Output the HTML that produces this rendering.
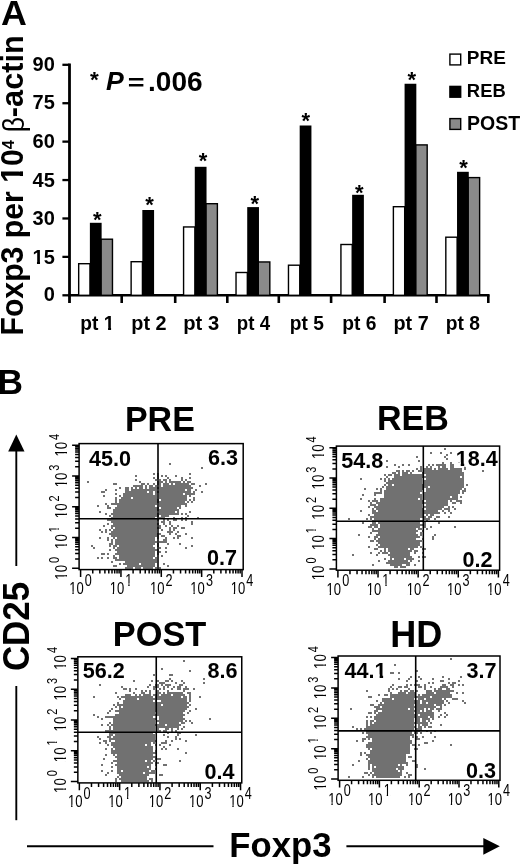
<!DOCTYPE html>
<html><head><meta charset="utf-8"><style>
html,body{margin:0;padding:0;background:#fff;overflow:hidden;}
svg{display:block;filter:blur(0.35px);}
text{font-family:"Liberation Sans", sans-serif;fill:#000;}
</style></head><body>
<svg width="520" height="866" viewBox="0 0 520 866">
<rect width="520" height="866" fill="#fff"></rect>
<line x1="69.5" y1="63.5" x2="69.5" y2="303" stroke="#000" stroke-width="2.8"></line>
<line x1="68.1" y1="295.3" x2="489.6" y2="295.3" stroke="#000" stroke-width="2.6"></line>
<line x1="62.4" y1="295.30" x2="69.5" y2="295.30" stroke="#000" stroke-width="2.3"></line>
<g transform="matrix(1.0000,0,0,1.0000,0.30,-0.20)"><text x="54.5" y="301.70" font-size="20" font-weight="bold" text-anchor="end">0</text></g>
<line x1="62.4" y1="256.88" x2="69.5" y2="256.88" stroke="#000" stroke-width="2.3"></line>
<g transform="matrix(1.0000,0,0,1.0000,0.30,0.38)"><text x="54.5" y="263.28" font-size="20" font-weight="bold" text-anchor="end">15</text><rect x="32.59" y="259.97" width="4.08" height="4.21" fill="#fff"></rect><rect x="39.72" y="259.97" width="3.83" height="4.21" fill="#fff"></rect></g>
<line x1="62.4" y1="218.47" x2="69.5" y2="218.47" stroke="#000" stroke-width="2.3"></line>
<g transform="matrix(1.0000,0,0,1.0000,0.30,-0.03)"><text x="54.5" y="224.87" font-size="20" font-weight="bold" text-anchor="end">30</text></g>
<line x1="62.4" y1="180.05" x2="69.5" y2="180.05" stroke="#000" stroke-width="2.3"></line>
<g transform="matrix(1.0000,0,0,1.0000,0.30,0.55)"><text x="54.5" y="186.45" font-size="20" font-weight="bold" text-anchor="end">45</text></g>
<line x1="62.4" y1="141.63" x2="69.5" y2="141.63" stroke="#000" stroke-width="2.3"></line>
<g transform="matrix(1.0000,0,0,1.0000,0.30,0.13)"><text x="54.5" y="148.03" font-size="20" font-weight="bold" text-anchor="end">60</text></g>
<line x1="62.4" y1="103.22" x2="69.5" y2="103.22" stroke="#000" stroke-width="2.3"></line>
<g transform="matrix(1.0000,0,0,1.0000,0.30,-0.28)"><text x="54.5" y="109.62" font-size="20" font-weight="bold" text-anchor="end">75</text></g>
<line x1="62.4" y1="64.80" x2="69.5" y2="64.80" stroke="#000" stroke-width="2.3"></line>
<g transform="matrix(1.0000,0,0,1.0000,0.30,0.30)"><text x="54.5" y="71.20" font-size="20" font-weight="bold" text-anchor="end">90</text></g>
<line x1="121.70" y1="295.3" x2="121.70" y2="303" stroke="#000" stroke-width="2.6"></line>
<line x1="175.20" y1="295.3" x2="175.20" y2="303" stroke="#000" stroke-width="2.6"></line>
<line x1="227.30" y1="295.3" x2="227.30" y2="303" stroke="#000" stroke-width="2.6"></line>
<line x1="278.80" y1="295.3" x2="278.80" y2="303" stroke="#000" stroke-width="2.6"></line>
<line x1="331.10" y1="295.3" x2="331.10" y2="303" stroke="#000" stroke-width="2.6"></line>
<line x1="384.60" y1="295.3" x2="384.60" y2="303" stroke="#000" stroke-width="2.6"></line>
<line x1="436.50" y1="295.3" x2="436.50" y2="303" stroke="#000" stroke-width="2.6"></line>
<line x1="488.30" y1="295.3" x2="488.30" y2="303" stroke="#000" stroke-width="2.6"></line>
<rect x="78.68" y="263.70" width="11.30" height="31.60" fill="#fff" stroke="#000" stroke-width="1.4"></rect>
<rect x="100.92" y="239.20" width="11.55" height="56.10" fill="#8a8a8a" stroke="#000" stroke-width="1.4"></rect>
<rect x="89.88" y="222.80" width="11.75" height="72.50" fill="#000"></rect>
<g transform="matrix(1.0000,0,0,1.0000,-0.30,-2.00)"><text x="97.70" y="228.90" font-size="22" font-weight="bold" text-anchor="middle">*</text></g>
<g transform="matrix(0.9581,0,0,0.9833,5.81,5.18)"><text x="95.53" y="330.8" font-size="20" font-weight="bold" text-anchor="middle">pt 1</text><rect x="102.55" y="327.43" width="4.18" height="4.27" fill="#fff"></rect><rect x="109.87" y="327.43" width="3.92" height="4.27" fill="#fff"></rect></g>
<rect x="131.13" y="261.70" width="11.30" height="33.60" fill="#fff" stroke="#000" stroke-width="1.4"></rect>
<rect x="142.33" y="210.00" width="11.75" height="85.30" fill="#000"></rect>
<g transform="matrix(1.0000,0,0,1.0000,0.05,-2.50)"><text x="149.55" y="214.70" font-size="22" font-weight="bold" text-anchor="middle">*</text></g>
<g transform="matrix(0.9909,0,0,0.9833,2.30,5.18)"><text x="147.98" y="330.8" font-size="20" font-weight="bold" text-anchor="middle">pt 2</text></g>
<rect x="183.58" y="226.95" width="11.30" height="68.35" fill="#fff" stroke="#000" stroke-width="1.4"></rect>
<rect x="205.83" y="203.70" width="11.55" height="91.60" fill="#8a8a8a" stroke="#000" stroke-width="1.4"></rect>
<rect x="194.78" y="166.80" width="11.75" height="128.50" fill="#000"></rect>
<g transform="matrix(1.0000,0,0,1.0000,0.00,-2.30)"><text x="203.00" y="170.80" font-size="22" font-weight="bold" text-anchor="middle">*</text></g>
<g transform="matrix(1.0091,0,0,0.9833,-1.07,5.18)"><text x="200.43" y="330.8" font-size="20" font-weight="bold" text-anchor="middle">pt 3</text></g>
<rect x="236.03" y="272.50" width="11.30" height="22.80" fill="#fff" stroke="#000" stroke-width="1.4"></rect>
<rect x="258.28" y="261.95" width="11.55" height="33.35" fill="#8a8a8a" stroke="#000" stroke-width="1.4"></rect>
<rect x="247.22" y="207.10" width="11.75" height="88.20" fill="#000"></rect>
<g transform="matrix(1.0000,0,0,1.0000,0.10,-2.05)"><text x="254.60" y="212.90" font-size="22" font-weight="bold" text-anchor="middle">*</text></g>
<g transform="matrix(0.9343,0,0,0.9833,17.21,5.18)"><text x="252.88" y="330.8" font-size="20" font-weight="bold" text-anchor="middle">pt 4</text></g>
<rect x="288.47" y="265.20" width="11.30" height="30.10" fill="#fff" stroke="#000" stroke-width="1.4"></rect>
<rect x="299.68" y="125.50" width="11.75" height="169.80" fill="#000"></rect>
<g transform="matrix(1.0000,0,0,1.0000,-0.10,-1.90)"><text x="305.90" y="130.20" font-size="22" font-weight="bold" text-anchor="middle">*</text></g>
<g transform="matrix(0.9588,0,0,0.9833,14.10,5.18)"><text x="305.32" y="330.8" font-size="20" font-weight="bold" text-anchor="middle">pt 5</text></g>
<rect x="340.93" y="244.50" width="11.30" height="50.80" fill="#fff" stroke="#000" stroke-width="1.4"></rect>
<rect x="352.13" y="194.80" width="11.75" height="100.50" fill="#000"></rect>
<g transform="matrix(1.0000,0,0,1.0000,-0.30,-1.55)"><text x="359.70" y="201.40" font-size="22" font-weight="bold" text-anchor="middle">*</text></g>
<g transform="matrix(0.9618,0,0,0.9833,15.14,5.18)"><text x="357.78" y="330.8" font-size="20" font-weight="bold" text-anchor="middle">pt 6</text></g>
<rect x="393.38" y="206.70" width="11.30" height="88.60" fill="#fff" stroke="#000" stroke-width="1.4"></rect>
<rect x="415.63" y="144.90" width="11.55" height="150.40" fill="#8a8a8a" stroke="#000" stroke-width="1.4"></rect>
<rect x="404.58" y="83.75" width="11.75" height="211.55" fill="#000"></rect>
<g transform="matrix(1.0000,0,0,1.0000,0.10,-1.67)"><text x="411.60" y="88.40" font-size="22" font-weight="bold" text-anchor="middle">*</text></g>
<g transform="matrix(0.9909,0,0,0.9833,4.58,5.18)"><text x="410.23" y="330.8" font-size="20" font-weight="bold" text-anchor="middle">pt 7</text></g>
<rect x="445.82" y="237.20" width="11.30" height="58.10" fill="#fff" stroke="#000" stroke-width="1.4"></rect>
<rect x="468.08" y="177.60" width="11.55" height="117.70" fill="#8a8a8a" stroke="#000" stroke-width="1.4"></rect>
<rect x="457.03" y="171.80" width="11.75" height="123.50" fill="#000"></rect>
<g transform="matrix(1.0000,0,0,1.0000,0.25,-1.80)"><text x="463.25" y="177.20" font-size="22" font-weight="bold" text-anchor="middle">*</text></g>
<g transform="matrix(0.9618,0,0,0.9833,17.95,5.18)"><text x="462.68" y="330.8" font-size="20" font-weight="bold" text-anchor="middle">pt 8</text></g>
<g transform="matrix(0.9958,0,0,0.9958,0.01,0.50)"><text x="1.1" y="24.4" font-size="36" font-weight="bold">A</text></g>
<g transform="matrix(1.0000,0,0,1.0000,0.55,-1.15)"><text x="89.5" y="88.6" font-size="22.5" font-weight="bold">*</text></g>
<g transform="matrix(1.0250,0,0,1.0000,-0.53,0.20)"><text x="104" y="90" font-size="26" font-weight="bold" font-style="italic">P</text></g>
<g transform="matrix(1.1077,0,0,0.8700,-13.39,11.38)"><text x="127.5" y="90" font-size="26" font-weight="bold">=</text></g>
<g transform="matrix(1.0592,0,0,1.0417,-7.16,-2.25)"><text x="146.5" y="90" font-size="26.5" font-weight="bold">.006</text></g>
<rect x="449.9" y="54.1" width="10.8" height="10.8" fill="#fff" stroke="#000" stroke-width="1.4"></rect>
<g transform="matrix(0.9590,0,0,0.9714,19.96,1.26)"><text x="466" y="64.8" font-size="19.8" font-weight="bold">PRE</text></g>
<rect x="449.9" y="86.39999999999999" width="10.8" height="10.8" fill="#000" stroke="#000" stroke-width="1.4"></rect>
<g transform="matrix(0.9300,0,0,0.9714,33.49,2.47)"><text x="466" y="97.1" font-size="19.8" font-weight="bold">REB</text></g>
<rect x="449.9" y="118.6" width="10.8" height="10.8" fill="#8a8a8a" stroke="#000" stroke-width="1.4"></rect>
<g transform="matrix(0.9857,0,0,0.9857,7.67,2.14)"><text x="466" y="129.3" font-size="19.8" font-weight="bold">POST</text></g>
<g transform="matrix(1.0000,0,0,0.9749,0.00,10.14)"><text transform="translate(23.3,333.8) rotate(-90)" font-size="31" font-weight="bold">Foxp3 per 10<tspan font-size="17" dy="-8.9">4</tspan></text><rect x="157.76" y="-4.44" width="5.88" height="5.34" fill="#fff" transform="translate(23.3,333.8) rotate(-90)"></rect><rect x="168.41" y="-4.44" width="5.49" height="5.34" fill="#fff" transform="translate(23.3,333.8) rotate(-90)"></rect></g>
<g transform="matrix(0.9600,0,0,0.8643,1.20,19.11)"><text transform="translate(23.3,131) rotate(-90)" font-size="31">β</text></g>
<g transform="matrix(1.0000,0,0,0.9913,0.00,1.21)"><text transform="translate(23.3,117) rotate(-90)" font-size="31" font-weight="bold">-actin</text></g>
<g transform="matrix(1.0000,0,0,1.0125,0.10,-5.02)"><text x="-2.7" y="393.9" font-size="35.3" font-weight="bold">B</text></g>
<line x1="16.3" y1="450" x2="16.3" y2="566" stroke="#000" stroke-width="1.9"></line>
<polygon points="16.3,434.4 8.2,451.4 24.5,451.4" fill="#000"></polygon>
<line x1="16.3" y1="686" x2="16.3" y2="820.2" stroke="#000" stroke-width="1.9"></line>
<g transform="matrix(1.0000,0,0,0.9312,0.60,47.57)"><text transform="translate(28.4,669.6) rotate(-90)" font-size="37.5" font-weight="bold">CD25</text></g>
<line x1="27" y1="846.2" x2="213.5" y2="846.2" stroke="#000" stroke-width="1.9"></line>
<line x1="346.4" y1="846.2" x2="485" y2="846.2" stroke="#000" stroke-width="1.9"></line>
<polygon points="499.8,846.3 483.3,838 483.3,854.7" fill="#000"></polygon>
<g transform="matrix(0.9919,0,0,0.9919,1.67,6.24)"><text x="229.5" y="857.7" font-size="35" font-weight="bold">Foxp3</text></g>
<path d="M169 463h2v2h-2zM201 467h2v2h-2zM153 473h2v2h-2zM157 473h2v2h-2zM189 473h2v2h-2zM135 475h2v2h-2zM157 475h2v2h-2zM161 475h2v2h-2zM165 475h2v2h-2zM175 475h2v2h-2zM153 477h2v2h-2zM157 477h2v2h-2zM167 477h2v2h-2zM181 477h2v2h-2zM189 477h2v2h-2zM135 479h2v2h-2zM155 479h2v2h-2zM159 479h2v2h-2zM163 479h4v2h-4zM169 479h2v2h-2zM181 479h2v2h-2zM185 479h2v2h-2zM87 481h2v2h-2zM139 481h2v2h-2zM157 481h6v2h-6zM165 481h2v2h-2zM169 481h12v2h-12zM183 481h2v2h-2zM187 481h4v2h-4zM113 483h4v2h-4zM141 483h4v2h-4zM147 483h2v2h-2zM153 483h2v2h-2zM157 483h4v2h-4zM163 483h6v2h-6zM171 483h2v2h-2zM175 483h14v2h-14zM191 483h4v2h-4zM205 483h2v2h-2zM133 485h10v2h-10zM145 485h2v2h-2zM149 485h4v2h-4zM155 485h2v2h-2zM159 485h2v2h-2zM163 485h28v2h-28zM199 485h2v2h-2zM119 487h2v2h-2zM125 487h4v2h-4zM131 487h2v2h-2zM135 487h2v2h-2zM139 487h4v2h-4zM145 487h2v2h-2zM149 487h44v2h-44zM105 489h2v2h-2zM115 489h2v2h-2zM125 489h4v2h-4zM131 489h26v2h-26zM159 489h26v2h-26zM187 489h4v2h-4zM195 489h2v2h-2zM101 491h4v2h-4zM125 491h22v2h-22zM149 491h4v2h-4zM155 491h36v2h-36zM193 491h2v2h-2zM201 491h2v2h-2zM115 493h2v2h-2zM123 493h30v2h-30zM155 493h2v2h-2zM159 493h24v2h-24zM185 493h10v2h-10zM103 495h2v2h-2zM119 495h2v2h-2zM123 495h34v2h-34zM159 495h28v2h-28zM189 495h2v2h-2zM115 497h2v2h-2zM121 497h10v2h-10zM133 497h24v2h-24zM159 497h28v2h-28zM193 497h2v2h-2zM115 499h2v2h-2zM119 499h40v2h-40zM161 499h26v2h-26zM189 499h2v2h-2zM193 499h2v2h-2zM115 501h2v2h-2zM119 501h66v2h-66zM187 501h2v2h-2zM191 501h2v2h-2zM105 503h2v2h-2zM111 503h46v2h-46zM159 503h28v2h-28zM97 505h2v2h-2zM107 505h2v2h-2zM117 505h38v2h-38zM159 505h22v2h-22zM185 505h2v2h-2zM107 507h4v2h-4zM115 507h44v2h-44zM161 507h16v2h-16zM179 507h2v2h-2zM113 509h66v2h-66zM99 511h2v2h-2zM113 511h44v2h-44zM159 511h16v2h-16zM177 511h2v2h-2zM189 511h2v2h-2zM105 513h2v2h-2zM111 513h68v2h-68zM181 513h2v2h-2zM185 513h2v2h-2zM109 515h2v2h-2zM113 515h46v2h-46zM161 515h8v2h-8zM187 515h2v2h-2zM111 517h44v2h-44zM159 517h6v2h-6zM173 517h2v2h-2zM181 517h2v2h-2zM185 517h2v2h-2zM197 517h2v2h-2zM107 519h52v2h-52zM163 519h2v2h-2zM167 519h2v2h-2zM173 519h4v2h-4zM181 519h2v2h-2zM185 519h2v2h-2zM111 521h46v2h-46zM161 521h4v2h-4zM169 521h2v2h-2zM191 521h2v2h-2zM107 523h2v2h-2zM113 523h46v2h-46zM163 523h2v2h-2zM169 523h2v2h-2zM191 523h2v2h-2zM103 525h2v2h-2zM111 525h46v2h-46zM159 525h2v2h-2zM165 525h2v2h-2zM171 525h2v2h-2zM177 525h2v2h-2zM111 527h2v2h-2zM115 527h46v2h-46zM169 527h2v2h-2zM173 527h4v2h-4zM181 527h4v2h-4zM99 529h2v2h-2zM105 529h2v2h-2zM109 529h2v2h-2zM113 529h44v2h-44zM161 529h2v2h-2zM169 529h2v2h-2zM173 529h2v2h-2zM101 531h2v2h-2zM105 531h2v2h-2zM111 531h46v2h-46zM167 531h6v2h-6zM177 531h2v2h-2zM109 533h52v2h-52zM169 533h2v2h-2zM175 533h2v2h-2zM185 533h2v2h-2zM111 535h48v2h-48zM161 535h4v2h-4zM177 535h4v2h-4zM99 537h2v2h-2zM107 537h2v2h-2zM113 537h2v2h-2zM117 537h38v2h-38zM157 537h2v2h-2zM165 537h2v2h-2zM173 537h2v2h-2zM177 537h2v2h-2zM191 537h2v2h-2zM107 539h2v2h-2zM111 539h2v2h-2zM115 539h40v2h-40zM163 539h4v2h-4zM111 541h2v2h-2zM115 541h42v2h-42zM159 541h8v2h-8zM109 543h4v2h-4zM115 543h40v2h-40zM157 543h2v2h-2zM167 543h2v2h-2zM179 543h2v2h-2zM91 545h2v2h-2zM109 545h2v2h-2zM113 545h4v2h-4zM119 545h34v2h-34zM157 545h2v2h-2zM191 545h2v2h-2zM93 547h2v2h-2zM113 547h2v2h-2zM117 547h38v2h-38zM159 547h2v2h-2zM165 547h2v2h-2zM185 547h2v2h-2zM109 549h2v2h-2zM115 549h44v2h-44zM117 551h38v2h-38zM157 551h4v2h-4zM165 551h2v2h-2zM101 553h4v2h-4zM107 553h2v2h-2zM115 553h40v2h-40zM157 553h2v2h-2zM113 555h2v2h-2zM119 555h36v2h-36zM161 555h2v2h-2zM97 557h2v2h-2zM101 557h2v2h-2zM107 557h2v2h-2zM113 557h4v2h-4zM119 557h34v2h-34zM155 557h2v2h-2zM115 559h42v2h-42zM111 561h2v2h-2zM125 561h32v2h-32zM119 563h2v2h-2zM123 563h16v2h-16zM141 563h14v2h-14zM163 563h2v2h-2zM113 565h4v2h-4zM127 565h28v2h-28zM167 565h2v2h-2zM125 567h8v2h-8zM135 567h6v2h-6zM143 567h10v2h-10zM155 567h2v2h-2zM159 567h2v2h-2z" fill="#717171"></path>
<line x1="158" y1="443.6" x2="158" y2="569.6" stroke="#000" stroke-width="1.6"></line>
<line x1="79.1" y1="518.8" x2="243.2" y2="518.8" stroke="#000" stroke-width="1.6"></line>
<rect x="79.1" y="443.6" width="164.10" height="126.00" fill="none" stroke="#000" stroke-width="1.5"></rect>
<path d="M80.60 569.6v7.3M79.1 568.30h-7M92.75 569.6v4M79.1 559.04h-4M99.85 569.6v4M79.1 553.62h-4M104.89 569.6v4M79.1 549.77h-4M108.80 569.6v4M79.1 546.79h-4M112.00 569.6v4M79.1 544.35h-4M114.70 569.6v4M79.1 542.29h-4M117.04 569.6v4M79.1 540.51h-4M119.10 569.6v4M79.1 538.93h-4M120.95 569.6v7.3M79.1 537.53h-7M133.10 569.6v4M79.1 528.26h-4M140.20 569.6v4M79.1 522.84h-4M145.24 569.6v4M79.1 519.00h-4M149.15 569.6v4M79.1 516.01h-4M152.35 569.6v4M79.1 513.58h-4M155.05 569.6v4M79.1 511.52h-4M157.39 569.6v4M79.1 509.73h-4M159.45 569.6v4M79.1 508.16h-4M161.30 569.6v7.3M79.1 506.75h-7M173.45 569.6v4M79.1 497.49h-4M180.55 569.6v4M79.1 492.07h-4M185.59 569.6v4M79.1 488.22h-4M189.50 569.6v4M79.1 485.24h-4M192.70 569.6v4M79.1 482.80h-4M195.40 569.6v4M79.1 480.74h-4M197.74 569.6v4M79.1 478.96h-4M199.80 569.6v4M79.1 477.38h-4M201.65 569.6v7.3M79.1 475.98h-7M213.80 569.6v4M79.1 466.71h-4M220.90 569.6v4M79.1 461.29h-4M225.94 569.6v4M79.1 457.45h-4M229.85 569.6v4M79.1 454.46h-4M233.05 569.6v4M79.1 452.03h-4M235.75 569.6v4M79.1 449.97h-4M238.09 569.6v4M79.1 448.18h-4M240.15 569.6v4M79.1 446.61h-4M242.00 569.6v7.3M79.1 445.20h-7" stroke="#000" stroke-width="1.5" fill="none"></path>
<g transform="translate(80.60,593.90) scale(0.8,1)"><text x="0" y="0" font-size="16.3" text-anchor="middle">10<tspan font-size="15.8" dx="1.3" dy="-8.3">0</tspan></text><rect x="-13.80" y="-2.48" width="3.53" height="3.38" fill="#fff"></rect><rect x="-8.60" y="-2.48" width="3.41" height="3.38" fill="#fff"></rect></g>
<g transform="translate(66.90,568.30) rotate(-90) scale(0.78,1)"><text x="0" y="0" font-size="17" text-anchor="middle">10<tspan font-size="14" dx="2.5" dy="-8.4">0</tspan></text><rect x="-14.20" y="-2.57" width="3.73" height="3.47" fill="#fff"></rect><rect x="-8.68" y="-2.57" width="3.59" height="3.47" fill="#fff"></rect></g>
<g transform="translate(120.95,593.90) scale(0.8,1)"><text x="0" y="0" font-size="16.3" text-anchor="middle">10<tspan font-size="15.8" dx="1.3" dy="-8.3">1</tspan></text><rect x="5.63" y="-10.78" width="3.53" height="3.38" fill="#fff"></rect><rect x="10.84" y="-10.78" width="3.41" height="3.38" fill="#fff"></rect><rect x="-13.80" y="-2.48" width="3.53" height="3.38" fill="#fff"></rect><rect x="-8.60" y="-2.48" width="3.41" height="3.38" fill="#fff"></rect></g>
<g transform="translate(66.90,537.53) rotate(-90) scale(0.78,1)"><text x="0" y="0" font-size="17" text-anchor="middle">10<tspan font-size="14" dx="2.5" dy="-8.4">1</tspan></text><rect x="6.97" y="-10.74" width="3.23" height="3.24" fill="#fff"></rect><rect x="11.68" y="-10.74" width="3.12" height="3.24" fill="#fff"></rect><rect x="-14.20" y="-2.57" width="3.73" height="3.47" fill="#fff"></rect><rect x="-8.68" y="-2.57" width="3.59" height="3.47" fill="#fff"></rect></g>
<g transform="translate(161.30,593.90) scale(0.8,1)"><text x="0" y="0" font-size="16.3" text-anchor="middle">10<tspan font-size="15.8" dx="1.3" dy="-8.3">2</tspan></text><rect x="-13.80" y="-2.48" width="3.53" height="3.38" fill="#fff"></rect><rect x="-8.60" y="-2.48" width="3.41" height="3.38" fill="#fff"></rect></g>
<g transform="translate(66.90,506.75) rotate(-90) scale(0.78,1)"><text x="0" y="0" font-size="17" text-anchor="middle">10<tspan font-size="14" dx="2.5" dy="-8.4">2</tspan></text><rect x="-14.20" y="-2.57" width="3.73" height="3.47" fill="#fff"></rect><rect x="-8.68" y="-2.57" width="3.59" height="3.47" fill="#fff"></rect></g>
<g transform="translate(201.65,593.90) scale(0.8,1)"><text x="0" y="0" font-size="16.3" text-anchor="middle">10<tspan font-size="15.8" dx="1.3" dy="-8.3">3</tspan></text><rect x="-13.80" y="-2.48" width="3.53" height="3.38" fill="#fff"></rect><rect x="-8.60" y="-2.48" width="3.41" height="3.38" fill="#fff"></rect></g>
<g transform="translate(66.90,475.98) rotate(-90) scale(0.78,1)"><text x="0" y="0" font-size="17" text-anchor="middle">10<tspan font-size="14" dx="2.5" dy="-8.4">3</tspan></text><rect x="-14.20" y="-2.57" width="3.73" height="3.47" fill="#fff"></rect><rect x="-8.68" y="-2.57" width="3.59" height="3.47" fill="#fff"></rect></g>
<g transform="translate(242.00,593.90) scale(0.8,1)"><text x="0" y="0" font-size="16.3" text-anchor="middle">10<tspan font-size="15.8" dx="1.3" dy="-8.3">4</tspan></text><rect x="-13.80" y="-2.48" width="3.53" height="3.38" fill="#fff"></rect><rect x="-8.60" y="-2.48" width="3.41" height="3.38" fill="#fff"></rect></g>
<g transform="translate(66.90,445.20) rotate(-90) scale(0.78,1)"><text x="0" y="0" font-size="17" text-anchor="middle">10<tspan font-size="14" dx="2.5" dy="-8.4">4</tspan></text><rect x="-14.20" y="-2.57" width="3.73" height="3.47" fill="#fff"></rect><rect x="-8.68" y="-2.57" width="3.59" height="3.47" fill="#fff"></rect></g>
<g transform="matrix(0.9721,0,0,1.0042,3.95,-1.80)"><text x="160.45" y="431" font-size="35" font-weight="bold" text-anchor="middle">PRE</text></g>
<g transform="matrix(1.0000,0,0,1.0000,89.00,466.30)"><text x="0" y="0" font-size="21.6" font-weight="bold">45.0</text></g>
<g transform="matrix(1.0000,0,0,1.0000,208.00,465.00)"><text x="0" y="0" font-size="21.6" font-weight="bold">6.3</text></g>
<g transform="matrix(1.0000,0,0,1.0000,207.00,564.60)"><text x="0" y="0" font-size="21.6" font-weight="bold">0.7</text></g>
<path d="M444 448h2v2h-2zM430 452h2v2h-2zM440 452h2v2h-2zM450 452h2v2h-2zM446 454h2v2h-2zM416 456h2v2h-2zM444 456h2v2h-2zM446 458h2v2h-2zM386 460h2v2h-2zM418 460h2v2h-2zM442 462h2v2h-2zM450 462h2v2h-2zM458 462h2v2h-2zM394 464h2v2h-2zM402 464h2v2h-2zM408 464h2v2h-2zM428 464h2v2h-2zM432 464h2v2h-2zM436 464h10v2h-10zM450 464h4v2h-4zM458 464h2v2h-2zM386 466h2v2h-2zM398 466h2v2h-2zM420 466h2v2h-2zM426 466h2v2h-2zM430 466h2v2h-2zM438 466h2v2h-2zM442 466h4v2h-4zM450 466h4v2h-4zM464 466h2v2h-2zM416 468h2v2h-2zM420 468h2v2h-2zM424 468h8v2h-8zM434 468h2v2h-2zM438 468h10v2h-10zM450 468h12v2h-12zM464 468h2v2h-2zM396 470h4v2h-4zM402 470h2v2h-2zM406 470h4v2h-4zM412 470h2v2h-2zM418 470h4v2h-4zM424 470h38v2h-38zM482 470h2v2h-2zM392 472h4v2h-4zM398 472h2v2h-2zM402 472h6v2h-6zM410 472h2v2h-2zM422 472h42v2h-42zM384 474h2v2h-2zM388 474h4v2h-4zM394 474h6v2h-6zM402 474h22v2h-22zM426 474h38v2h-38zM386 476h2v2h-2zM394 476h66v2h-66zM462 476h2v2h-2zM360 478h2v2h-2zM380 478h2v2h-2zM384 478h2v2h-2zM388 478h2v2h-2zM392 478h30v2h-30zM426 478h38v2h-38zM384 480h2v2h-2zM388 480h34v2h-34zM424 480h40v2h-40zM386 482h36v2h-36zM424 482h40v2h-40zM384 484h2v2h-2zM388 484h4v2h-4zM394 484h70v2h-70zM466 484h2v2h-2zM382 486h2v2h-2zM386 486h42v2h-42zM430 486h34v2h-34zM364 488h2v2h-2zM376 488h2v2h-2zM380 488h2v2h-2zM386 488h38v2h-38zM426 488h36v2h-36zM464 488h2v2h-2zM380 490h2v2h-2zM384 490h38v2h-38zM426 490h34v2h-34zM462 490h4v2h-4zM374 492h8v2h-8zM384 492h36v2h-36zM424 492h36v2h-36zM462 492h2v2h-2zM362 494h2v2h-2zM374 494h2v2h-2zM384 494h38v2h-38zM424 494h34v2h-34zM384 496h38v2h-38zM424 496h26v2h-26zM452 496h6v2h-6zM460 496h2v2h-2zM360 498h2v2h-2zM374 498h2v2h-2zM380 498h38v2h-38zM420 498h2v2h-2zM424 498h34v2h-34zM368 500h2v2h-2zM372 500h6v2h-6zM380 500h44v2h-44zM426 500h22v2h-22zM450 500h2v2h-2zM456 500h6v2h-6zM370 502h2v2h-2zM376 502h72v2h-72zM452 502h4v2h-4zM460 502h2v2h-2zM370 504h6v2h-6zM378 504h44v2h-44zM426 504h22v2h-22zM368 506h2v2h-2zM374 506h48v2h-48zM424 506h20v2h-20zM448 506h2v2h-2zM452 506h2v2h-2zM372 508h2v2h-2zM376 508h48v2h-48zM426 508h16v2h-16zM444 508h6v2h-6zM454 508h2v2h-2zM360 510h2v2h-2zM372 510h4v2h-4zM378 510h60v2h-60zM442 510h2v2h-2zM448 510h2v2h-2zM372 512h68v2h-68zM444 512h2v2h-2zM450 512h2v2h-2zM368 514h2v2h-2zM374 514h50v2h-50zM426 514h2v2h-2zM430 514h4v2h-4zM370 516h56v2h-56zM428 516h4v2h-4zM436 516h4v2h-4zM448 516h2v2h-2zM348 518h2v2h-2zM366 518h2v2h-2zM370 518h2v2h-2zM374 518h46v2h-46zM424 518h6v2h-6zM434 518h2v2h-2zM372 520h52v2h-52zM426 520h2v2h-2zM362 522h2v2h-2zM372 522h4v2h-4zM378 522h42v2h-42zM424 522h2v2h-2zM438 522h2v2h-2zM370 524h8v2h-8zM380 524h46v2h-46zM368 526h4v2h-4zM374 526h4v2h-4zM380 526h40v2h-40zM424 526h2v2h-2zM430 526h2v2h-2zM454 526h2v2h-2zM372 528h2v2h-2zM378 528h38v2h-38zM418 528h4v2h-4zM426 528h2v2h-2zM372 530h46v2h-46zM422 530h2v2h-2zM370 532h2v2h-2zM378 532h38v2h-38zM420 532h2v2h-2zM358 534h2v2h-2zM376 534h42v2h-42zM420 534h2v2h-2zM434 534h2v2h-2zM368 536h2v2h-2zM374 536h4v2h-4zM380 536h40v2h-40zM432 536h2v2h-2zM374 538h2v2h-2zM378 538h38v2h-38zM422 538h2v2h-2zM432 538h2v2h-2zM370 540h4v2h-4zM376 540h46v2h-46zM378 542h42v2h-42zM376 544h2v2h-2zM380 544h40v2h-40zM368 546h2v2h-2zM378 546h40v2h-40zM420 546h2v2h-2zM374 548h4v2h-4zM384 548h2v2h-2zM388 548h20v2h-20zM410 548h4v2h-4zM422 548h4v2h-4zM380 550h2v2h-2zM384 550h2v2h-2zM388 550h24v2h-24zM414 550h4v2h-4zM370 552h2v2h-2zM378 552h2v2h-2zM382 552h6v2h-6zM390 552h20v2h-20zM414 552h2v2h-2zM422 552h2v2h-2zM352 554h2v2h-2zM376 554h2v2h-2zM388 554h22v2h-22zM390 556h22v2h-22zM418 556h2v2h-2zM422 556h4v2h-4zM384 558h2v2h-2zM390 558h2v2h-2zM394 558h10v2h-10zM406 558h8v2h-8zM378 560h2v2h-2zM388 560h20v2h-20zM410 560h2v2h-2zM418 560h2v2h-2zM386 562h24v2h-24zM372 564h2v2h-2zM390 564h12v2h-12zM406 564h4v2h-4zM414 564h2v2h-2zM394 566h4v2h-4zM400 566h6v2h-6z" fill="#717171"></path>
<line x1="423.3" y1="446.1" x2="423.3" y2="570.2" stroke="#000" stroke-width="1.6"></line>
<line x1="336.4" y1="521.2" x2="499.6" y2="521.2" stroke="#000" stroke-width="1.6"></line>
<rect x="336.4" y="446.1" width="163.20" height="124.10" fill="none" stroke="#000" stroke-width="1.5"></rect>
<path d="M337.90 570.2v7.3M336.4 568.90h-7M349.98 570.2v4M336.4 559.78h-4M357.04 570.2v4M336.4 554.44h-4M362.06 570.2v4M336.4 550.66h-4M365.95 570.2v4M336.4 547.72h-4M369.12 570.2v4M336.4 545.32h-4M371.81 570.2v4M336.4 543.29h-4M374.14 570.2v4M336.4 541.54h-4M376.19 570.2v4M336.4 539.99h-4M378.02 570.2v7.3M336.4 538.60h-7M390.10 570.2v4M336.4 529.48h-4M397.17 570.2v4M336.4 524.14h-4M402.18 570.2v4M336.4 520.36h-4M406.07 570.2v4M336.4 517.42h-4M409.25 570.2v4M336.4 515.02h-4M411.93 570.2v4M336.4 512.99h-4M414.26 570.2v4M336.4 511.24h-4M416.31 570.2v4M336.4 509.69h-4M418.15 570.2v7.3M336.4 508.30h-7M430.23 570.2v4M336.4 499.18h-4M437.29 570.2v4M336.4 493.84h-4M442.31 570.2v4M336.4 490.06h-4M446.20 570.2v4M336.4 487.12h-4M449.37 570.2v4M336.4 484.72h-4M452.06 570.2v4M336.4 482.69h-4M454.39 570.2v4M336.4 480.94h-4M456.44 570.2v4M336.4 479.39h-4M458.28 570.2v7.3M336.4 478.00h-7M470.35 570.2v4M336.4 468.88h-4M477.42 570.2v4M336.4 463.54h-4M482.43 570.2v4M336.4 459.76h-4M486.32 570.2v4M336.4 456.82h-4M489.50 570.2v4M336.4 454.42h-4M492.18 570.2v4M336.4 452.39h-4M494.51 570.2v4M336.4 450.64h-4M496.56 570.2v4M336.4 449.09h-4M498.40 570.2v7.3M336.4 447.70h-7" stroke="#000" stroke-width="1.5" fill="none"></path>
<g transform="translate(337.90,594.50) scale(0.8,1)"><text x="0" y="0" font-size="16.3" text-anchor="middle">10<tspan font-size="15.8" dx="1.3" dy="-8.3">0</tspan></text><rect x="-13.80" y="-2.48" width="3.53" height="3.38" fill="#fff"></rect><rect x="-8.60" y="-2.48" width="3.41" height="3.38" fill="#fff"></rect></g>
<g transform="translate(324.20,568.90) rotate(-90) scale(0.78,1)"><text x="0" y="0" font-size="17" text-anchor="middle">10<tspan font-size="14" dx="2.5" dy="-8.4">0</tspan></text><rect x="-14.20" y="-2.57" width="3.73" height="3.47" fill="#fff"></rect><rect x="-8.68" y="-2.57" width="3.59" height="3.47" fill="#fff"></rect></g>
<g transform="translate(378.02,594.50) scale(0.8,1)"><text x="0" y="0" font-size="16.3" text-anchor="middle">10<tspan font-size="15.8" dx="1.3" dy="-8.3">1</tspan></text><rect x="5.63" y="-10.78" width="3.53" height="3.38" fill="#fff"></rect><rect x="10.84" y="-10.78" width="3.41" height="3.38" fill="#fff"></rect><rect x="-13.80" y="-2.48" width="3.53" height="3.38" fill="#fff"></rect><rect x="-8.60" y="-2.48" width="3.41" height="3.38" fill="#fff"></rect></g>
<g transform="translate(324.20,538.60) rotate(-90) scale(0.78,1)"><text x="0" y="0" font-size="17" text-anchor="middle">10<tspan font-size="14" dx="2.5" dy="-8.4">1</tspan></text><rect x="6.97" y="-10.74" width="3.23" height="3.24" fill="#fff"></rect><rect x="11.68" y="-10.74" width="3.12" height="3.24" fill="#fff"></rect><rect x="-14.20" y="-2.57" width="3.73" height="3.47" fill="#fff"></rect><rect x="-8.68" y="-2.57" width="3.59" height="3.47" fill="#fff"></rect></g>
<g transform="translate(418.15,594.50) scale(0.8,1)"><text x="0" y="0" font-size="16.3" text-anchor="middle">10<tspan font-size="15.8" dx="1.3" dy="-8.3">2</tspan></text><rect x="-13.80" y="-2.48" width="3.53" height="3.38" fill="#fff"></rect><rect x="-8.60" y="-2.48" width="3.41" height="3.38" fill="#fff"></rect></g>
<g transform="translate(324.20,508.30) rotate(-90) scale(0.78,1)"><text x="0" y="0" font-size="17" text-anchor="middle">10<tspan font-size="14" dx="2.5" dy="-8.4">2</tspan></text><rect x="-14.20" y="-2.57" width="3.73" height="3.47" fill="#fff"></rect><rect x="-8.68" y="-2.57" width="3.59" height="3.47" fill="#fff"></rect></g>
<g transform="translate(458.28,594.50) scale(0.8,1)"><text x="0" y="0" font-size="16.3" text-anchor="middle">10<tspan font-size="15.8" dx="1.3" dy="-8.3">3</tspan></text><rect x="-13.80" y="-2.48" width="3.53" height="3.38" fill="#fff"></rect><rect x="-8.60" y="-2.48" width="3.41" height="3.38" fill="#fff"></rect></g>
<g transform="translate(324.20,478.00) rotate(-90) scale(0.78,1)"><text x="0" y="0" font-size="17" text-anchor="middle">10<tspan font-size="14" dx="2.5" dy="-8.4">3</tspan></text><rect x="-14.20" y="-2.57" width="3.73" height="3.47" fill="#fff"></rect><rect x="-8.68" y="-2.57" width="3.59" height="3.47" fill="#fff"></rect></g>
<g transform="translate(498.40,594.50) scale(0.8,1)"><text x="0" y="0" font-size="16.3" text-anchor="middle">10<tspan font-size="15.8" dx="1.3" dy="-8.3">4</tspan></text><rect x="-13.80" y="-2.48" width="3.53" height="3.38" fill="#fff"></rect><rect x="-8.60" y="-2.48" width="3.41" height="3.38" fill="#fff"></rect></g>
<g transform="translate(324.20,447.70) rotate(-90) scale(0.78,1)"><text x="0" y="0" font-size="17" text-anchor="middle">10<tspan font-size="14" dx="2.5" dy="-8.4">4</tspan></text><rect x="-14.20" y="-2.57" width="3.73" height="3.47" fill="#fff"></rect><rect x="-8.68" y="-2.57" width="3.59" height="3.47" fill="#fff"></rect></g>
<g transform="matrix(0.9729,0,0,1.0000,10.69,-0.40)"><text x="413.45" y="430.6" font-size="35" font-weight="bold" text-anchor="middle">REB</text></g>
<g transform="matrix(1.0000,0,0,1.0000,341.30,467.70)"><text x="0" y="0" font-size="21.6" font-weight="bold">54.8</text></g>
<g transform="matrix(1.0000,0,0,1.0000,455.70,466.00)"><text x="0" y="0" font-size="21.6" font-weight="bold">18.4</text><rect x="0.51" y="-3.58" width="4.52" height="4.48" fill="#fff"></rect><rect x="8.49" y="-3.58" width="4.23" height="4.48" fill="#fff"></rect></g>
<g transform="matrix(1.0000,0,0,1.0000,462.50,567.00)"><text x="0" y="0" font-size="21.6" font-weight="bold">0.2</text></g>
<path d="M183 660h2v2h-2zM85 668h2v2h-2zM161 668h2v2h-2zM189 670h2v2h-2zM153 674h2v2h-2zM169 674h4v2h-4zM169 678h2v2h-2zM203 678h2v2h-2zM133 680h2v2h-2zM151 680h2v2h-2zM157 680h2v2h-2zM165 680h4v2h-4zM171 680h2v2h-2zM181 680h2v2h-2zM159 682h6v2h-6zM175 682h2v2h-2zM183 682h2v2h-2zM203 682h2v2h-2zM99 684h2v2h-2zM149 684h2v2h-2zM155 684h4v2h-4zM161 684h2v2h-2zM165 684h6v2h-6zM179 684h4v2h-4zM121 686h2v2h-2zM147 686h2v2h-2zM153 686h6v2h-6zM163 686h2v2h-2zM167 686h2v2h-2zM173 686h2v2h-2zM177 686h4v2h-4zM185 686h2v2h-2zM123 688h4v2h-4zM129 688h2v2h-2zM135 688h2v2h-2zM153 688h2v2h-2zM159 688h2v2h-2zM163 688h2v2h-2zM171 688h2v2h-2zM177 688h4v2h-4zM183 688h6v2h-6zM193 688h2v2h-2zM129 690h2v2h-2zM141 690h2v2h-2zM145 690h2v2h-2zM149 690h2v2h-2zM157 690h2v2h-2zM167 690h2v2h-2zM183 690h2v2h-2zM115 692h2v2h-2zM133 692h2v2h-2zM141 692h4v2h-4zM149 692h2v2h-2zM157 692h4v2h-4zM163 692h2v2h-2zM167 692h16v2h-16zM187 692h4v2h-4zM125 694h6v2h-6zM135 694h2v2h-2zM139 694h2v2h-2zM143 694h8v2h-8zM153 694h6v2h-6zM161 694h10v2h-10zM173 694h12v2h-12zM189 694h2v2h-2zM93 696h2v2h-2zM117 696h2v2h-2zM121 696h32v2h-32zM155 696h26v2h-26zM183 696h4v2h-4zM189 696h2v2h-2zM199 696h2v2h-2zM119 698h2v2h-2zM125 698h12v2h-12zM139 698h48v2h-48zM189 698h2v2h-2zM123 700h30v2h-30zM155 700h2v2h-2zM161 700h26v2h-26zM189 700h2v2h-2zM117 702h2v2h-2zM123 702h66v2h-66zM113 704h2v2h-2zM117 704h44v2h-44zM163 704h24v2h-24zM189 704h2v2h-2zM115 706h2v2h-2zM119 706h2v2h-2zM123 706h66v2h-66zM111 708h2v2h-2zM119 708h68v2h-68zM195 708h2v2h-2zM109 710h2v2h-2zM115 710h70v2h-70zM189 710h2v2h-2zM107 712h2v2h-2zM119 712h36v2h-36zM157 712h26v2h-26zM187 712h2v2h-2zM93 714h2v2h-2zM115 714h70v2h-70zM97 716h2v2h-2zM105 716h48v2h-48zM159 716h24v2h-24zM101 718h2v2h-2zM113 718h44v2h-44zM159 718h26v2h-26zM209 718h2v2h-2zM113 720h42v2h-42zM157 720h26v2h-26zM185 720h2v2h-2zM189 720h2v2h-2zM109 722h2v2h-2zM113 722h42v2h-42zM159 722h20v2h-20zM181 722h4v2h-4zM191 722h2v2h-2zM101 724h2v2h-2zM107 724h2v2h-2zM111 724h54v2h-54zM167 724h14v2h-14zM109 726h2v2h-2zM113 726h42v2h-42zM157 726h22v2h-22zM183 726h2v2h-2zM109 728h2v2h-2zM113 728h42v2h-42zM157 728h2v2h-2zM165 728h4v2h-4zM171 728h2v2h-2zM177 728h2v2h-2zM181 728h2v2h-2zM105 730h50v2h-50zM157 730h4v2h-4zM163 730h4v2h-4zM171 730h2v2h-2zM175 730h2v2h-2zM109 732h44v2h-44zM167 732h2v2h-2zM177 732h4v2h-4zM109 734h4v2h-4zM115 734h40v2h-40zM163 734h2v2h-2zM177 734h2v2h-2zM195 734h2v2h-2zM97 736h2v2h-2zM107 736h4v2h-4zM113 736h42v2h-42zM167 736h2v2h-2zM175 736h2v2h-2zM99 738h2v2h-2zM109 738h46v2h-46zM175 738h2v2h-2zM179 738h2v2h-2zM103 740h4v2h-4zM109 740h2v2h-2zM115 740h42v2h-42zM165 740h2v2h-2zM171 740h2v2h-2zM185 740h2v2h-2zM99 742h2v2h-2zM105 742h2v2h-2zM111 742h40v2h-40zM153 742h2v2h-2zM161 742h6v2h-6zM107 744h2v2h-2zM111 744h34v2h-34zM147 744h4v2h-4zM155 744h2v2h-2zM159 744h2v2h-2zM169 744h2v2h-2zM113 746h40v2h-40zM163 746h2v2h-2zM105 748h2v2h-2zM111 748h2v2h-2zM115 748h38v2h-38zM161 748h2v2h-2zM165 748h2v2h-2zM177 748h2v2h-2zM111 750h42v2h-42zM155 750h2v2h-2zM111 752h46v2h-46zM185 752h2v2h-2zM105 754h2v2h-2zM113 754h2v2h-2zM117 754h36v2h-36zM115 756h42v2h-42zM103 758h2v2h-2zM117 758h36v2h-36zM155 758h6v2h-6zM113 760h32v2h-32zM147 760h4v2h-4zM153 760h2v2h-2zM179 760h2v2h-2zM111 762h2v2h-2zM117 762h36v2h-36zM155 762h4v2h-4zM101 764h2v2h-2zM115 764h36v2h-36zM155 764h2v2h-2zM163 764h4v2h-4zM111 766h2v2h-2zM117 766h30v2h-30zM149 766h2v2h-2zM117 768h34v2h-34zM155 768h2v2h-2zM101 770h2v2h-2zM111 770h2v2h-2zM117 770h4v2h-4zM123 770h26v2h-26zM151 770h4v2h-4zM107 772h2v2h-2zM117 772h26v2h-26zM145 772h10v2h-10zM105 774h2v2h-2zM119 774h30v2h-30zM159 774h4v2h-4zM117 776h2v2h-2zM121 776h26v2h-26zM115 778h2v2h-2zM119 778h28v2h-28zM149 778h4v2h-4zM115 780h2v2h-2zM121 780h28v2h-28zM151 780h2v2h-2z" fill="#717171"></path>
<line x1="156.25" y1="656.8" x2="156.25" y2="782.9" stroke="#000" stroke-width="1.6"></line>
<line x1="77.85" y1="732.2" x2="241.75" y2="732.2" stroke="#000" stroke-width="1.6"></line>
<rect x="77.85" y="656.8" width="163.90" height="126.10" fill="none" stroke="#000" stroke-width="1.5"></rect>
<path d="M79.35 782.9v7.3M77.85 781.60h-7M91.48 782.9v4M77.85 772.33h-4M98.58 782.9v4M77.85 766.90h-4M103.61 782.9v4M77.85 763.06h-4M107.52 782.9v4M77.85 760.07h-4M110.71 782.9v4M77.85 757.63h-4M113.41 782.9v4M77.85 755.57h-4M115.74 782.9v4M77.85 753.78h-4M117.81 782.9v4M77.85 752.21h-4M119.65 782.9v7.3M77.85 750.80h-7M131.78 782.9v4M77.85 741.53h-4M138.88 782.9v4M77.85 736.10h-4M143.91 782.9v4M77.85 732.26h-4M147.82 782.9v4M77.85 729.27h-4M151.01 782.9v4M77.85 726.83h-4M153.71 782.9v4M77.85 724.77h-4M156.04 782.9v4M77.85 722.98h-4M158.11 782.9v4M77.85 721.41h-4M159.95 782.9v7.3M77.85 720.00h-7M172.08 782.9v4M77.85 710.73h-4M179.18 782.9v4M77.85 705.30h-4M184.21 782.9v4M77.85 701.46h-4M188.12 782.9v4M77.85 698.47h-4M191.31 782.9v4M77.85 696.03h-4M194.01 782.9v4M77.85 693.97h-4M196.34 782.9v4M77.85 692.18h-4M198.41 782.9v4M77.85 690.61h-4M200.25 782.9v7.3M77.85 689.20h-7M212.38 782.9v4M77.85 679.93h-4M219.48 782.9v4M77.85 674.50h-4M224.51 782.9v4M77.85 670.66h-4M228.42 782.9v4M77.85 667.67h-4M231.61 782.9v4M77.85 665.23h-4M234.31 782.9v4M77.85 663.17h-4M236.64 782.9v4M77.85 661.38h-4M238.71 782.9v4M77.85 659.81h-4M240.55 782.9v7.3M77.85 658.40h-7" stroke="#000" stroke-width="1.5" fill="none"></path>
<g transform="translate(79.35,807.20) scale(0.8,1)"><text x="0" y="0" font-size="16.3" text-anchor="middle">10<tspan font-size="15.8" dx="1.3" dy="-8.3">0</tspan></text><rect x="-13.80" y="-2.48" width="3.53" height="3.38" fill="#fff"></rect><rect x="-8.60" y="-2.48" width="3.41" height="3.38" fill="#fff"></rect></g>
<g transform="translate(65.65,781.60) rotate(-90) scale(0.78,1)"><text x="0" y="0" font-size="17" text-anchor="middle">10<tspan font-size="14" dx="2.5" dy="-8.4">0</tspan></text><rect x="-14.20" y="-2.57" width="3.73" height="3.47" fill="#fff"></rect><rect x="-8.68" y="-2.57" width="3.59" height="3.47" fill="#fff"></rect></g>
<g transform="translate(119.65,807.20) scale(0.8,1)"><text x="0" y="0" font-size="16.3" text-anchor="middle">10<tspan font-size="15.8" dx="1.3" dy="-8.3">1</tspan></text><rect x="5.63" y="-10.78" width="3.53" height="3.38" fill="#fff"></rect><rect x="10.84" y="-10.78" width="3.41" height="3.38" fill="#fff"></rect><rect x="-13.80" y="-2.48" width="3.53" height="3.38" fill="#fff"></rect><rect x="-8.60" y="-2.48" width="3.41" height="3.38" fill="#fff"></rect></g>
<g transform="translate(65.65,750.80) rotate(-90) scale(0.78,1)"><text x="0" y="0" font-size="17" text-anchor="middle">10<tspan font-size="14" dx="2.5" dy="-8.4">1</tspan></text><rect x="6.97" y="-10.74" width="3.23" height="3.24" fill="#fff"></rect><rect x="11.68" y="-10.74" width="3.12" height="3.24" fill="#fff"></rect><rect x="-14.20" y="-2.57" width="3.73" height="3.47" fill="#fff"></rect><rect x="-8.68" y="-2.57" width="3.59" height="3.47" fill="#fff"></rect></g>
<g transform="translate(159.95,807.20) scale(0.8,1)"><text x="0" y="0" font-size="16.3" text-anchor="middle">10<tspan font-size="15.8" dx="1.3" dy="-8.3">2</tspan></text><rect x="-13.80" y="-2.48" width="3.53" height="3.38" fill="#fff"></rect><rect x="-8.60" y="-2.48" width="3.41" height="3.38" fill="#fff"></rect></g>
<g transform="translate(65.65,720.00) rotate(-90) scale(0.78,1)"><text x="0" y="0" font-size="17" text-anchor="middle">10<tspan font-size="14" dx="2.5" dy="-8.4">2</tspan></text><rect x="-14.20" y="-2.57" width="3.73" height="3.47" fill="#fff"></rect><rect x="-8.68" y="-2.57" width="3.59" height="3.47" fill="#fff"></rect></g>
<g transform="translate(200.25,807.20) scale(0.8,1)"><text x="0" y="0" font-size="16.3" text-anchor="middle">10<tspan font-size="15.8" dx="1.3" dy="-8.3">3</tspan></text><rect x="-13.80" y="-2.48" width="3.53" height="3.38" fill="#fff"></rect><rect x="-8.60" y="-2.48" width="3.41" height="3.38" fill="#fff"></rect></g>
<g transform="translate(65.65,689.20) rotate(-90) scale(0.78,1)"><text x="0" y="0" font-size="17" text-anchor="middle">10<tspan font-size="14" dx="2.5" dy="-8.4">3</tspan></text><rect x="-14.20" y="-2.57" width="3.73" height="3.47" fill="#fff"></rect><rect x="-8.68" y="-2.57" width="3.59" height="3.47" fill="#fff"></rect></g>
<g transform="translate(240.55,807.20) scale(0.8,1)"><text x="0" y="0" font-size="16.3" text-anchor="middle">10<tspan font-size="15.8" dx="1.3" dy="-8.3">4</tspan></text><rect x="-13.80" y="-2.48" width="3.53" height="3.38" fill="#fff"></rect><rect x="-8.60" y="-2.48" width="3.41" height="3.38" fill="#fff"></rect></g>
<g transform="translate(65.65,658.40) rotate(-90) scale(0.78,1)"><text x="0" y="0" font-size="17" text-anchor="middle">10<tspan font-size="14" dx="2.5" dy="-8.4">4</tspan></text><rect x="-14.20" y="-2.57" width="3.73" height="3.47" fill="#fff"></rect><rect x="-8.68" y="-2.57" width="3.59" height="3.47" fill="#fff"></rect></g>
<g transform="matrix(0.9828,0,0,1.0167,1.78,-11.08)"><text x="160.5" y="646.7" font-size="35" font-weight="bold" text-anchor="middle">POST</text></g>
<g transform="matrix(1.0000,0,0,1.0000,82.80,677.70)"><text x="0" y="0" font-size="21.6" font-weight="bold">56.2</text></g>
<g transform="matrix(1.0000,0,0,1.0000,207.60,678.00)"><text x="0" y="0" font-size="21.6" font-weight="bold">8.6</text></g>
<g transform="matrix(1.0000,0,0,1.0000,204.60,778.50)"><text x="0" y="0" font-size="21.6" font-weight="bold">0.4</text></g>
<path d="M450 658h2v2h-2zM394 664h2v2h-2zM364 670h2v2h-2zM416 670h2v2h-2zM390 672h4v2h-4zM398 672h2v2h-2zM380 674h2v2h-2zM410 676h2v2h-2zM418 676h2v2h-2zM442 676h2v2h-2zM460 676h2v2h-2zM398 678h2v2h-2zM408 678h2v2h-2zM420 678h2v2h-2zM432 678h2v2h-2zM448 678h2v2h-2zM406 680h2v2h-2zM416 680h2v2h-2zM440 680h4v2h-4zM458 680h2v2h-2zM428 682h2v2h-2zM432 682h2v2h-2zM448 682h2v2h-2zM452 682h4v2h-4zM392 684h2v2h-2zM406 684h2v2h-2zM410 684h2v2h-2zM414 684h6v2h-6zM424 684h2v2h-2zM442 684h4v2h-4zM450 684h4v2h-4zM458 684h2v2h-2zM462 684h2v2h-2zM390 686h2v2h-2zM398 686h4v2h-4zM404 686h4v2h-4zM418 686h4v2h-4zM424 686h2v2h-2zM430 686h2v2h-2zM440 686h8v2h-8zM452 686h2v2h-2zM388 688h2v2h-2zM392 688h2v2h-2zM396 688h2v2h-2zM408 688h2v2h-2zM424 688h2v2h-2zM434 688h2v2h-2zM438 688h4v2h-4zM446 688h4v2h-4zM366 690h2v2h-2zM388 690h2v2h-2zM400 690h2v2h-2zM404 690h4v2h-4zM410 690h4v2h-4zM416 690h2v2h-2zM426 690h6v2h-6zM434 690h20v2h-20zM390 692h2v2h-2zM398 692h8v2h-8zM408 692h8v2h-8zM426 692h8v2h-8zM436 692h14v2h-14zM456 692h2v2h-2zM462 692h2v2h-2zM378 694h2v2h-2zM384 694h4v2h-4zM390 694h26v2h-26zM418 694h2v2h-2zM422 694h30v2h-30zM368 696h4v2h-4zM390 696h40v2h-40zM432 696h20v2h-20zM382 698h10v2h-10zM394 698h20v2h-20zM418 698h6v2h-6zM426 698h16v2h-16zM444 698h2v2h-2zM452 698h6v2h-6zM376 700h2v2h-2zM382 700h38v2h-38zM422 700h22v2h-22zM446 700h2v2h-2zM462 700h2v2h-2zM380 702h2v2h-2zM384 702h36v2h-36zM422 702h4v2h-4zM428 702h16v2h-16zM448 702h2v2h-2zM464 702h2v2h-2zM370 704h4v2h-4zM378 704h36v2h-36zM416 704h18v2h-18zM436 704h6v2h-6zM444 704h2v2h-2zM374 706h6v2h-6zM382 706h54v2h-54zM440 706h2v2h-2zM350 708h2v2h-2zM376 708h32v2h-32zM410 708h4v2h-4zM416 708h8v2h-8zM426 708h2v2h-2zM430 708h4v2h-4zM436 708h6v2h-6zM374 710h4v2h-4zM382 710h38v2h-38zM422 710h2v2h-2zM426 710h6v2h-6zM438 710h2v2h-2zM368 712h4v2h-4zM374 712h2v2h-2zM378 712h36v2h-36zM416 712h18v2h-18zM444 712h2v2h-2zM376 714h42v2h-42zM420 714h14v2h-14zM440 714h2v2h-2zM446 714h2v2h-2zM366 716h2v2h-2zM370 716h2v2h-2zM374 716h54v2h-54zM430 716h4v2h-4zM438 716h2v2h-2zM444 716h2v2h-2zM374 718h40v2h-40zM416 718h4v2h-4zM422 718h8v2h-8zM432 718h2v2h-2zM366 720h2v2h-2zM370 720h4v2h-4zM376 720h38v2h-38zM416 720h4v2h-4zM422 720h4v2h-4zM428 720h2v2h-2zM366 722h2v2h-2zM370 722h2v2h-2zM374 722h54v2h-54zM430 722h2v2h-2zM366 724h2v2h-2zM370 724h44v2h-44zM418 724h2v2h-2zM422 724h6v2h-6zM440 724h2v2h-2zM352 726h2v2h-2zM366 726h50v2h-50zM418 726h4v2h-4zM424 726h2v2h-2zM428 726h4v2h-4zM356 728h2v2h-2zM360 728h2v2h-2zM364 728h50v2h-50zM416 728h6v2h-6zM366 730h46v2h-46zM414 730h6v2h-6zM426 730h2v2h-2zM434 730h2v2h-2zM362 732h2v2h-2zM366 732h46v2h-46zM414 732h4v2h-4zM420 732h2v2h-2zM430 732h2v2h-2zM368 734h46v2h-46zM366 736h44v2h-44zM412 736h2v2h-2zM416 736h2v2h-2zM422 736h2v2h-2zM434 736h2v2h-2zM362 738h4v2h-4zM368 738h2v2h-2zM372 738h38v2h-38zM416 738h4v2h-4zM356 740h2v2h-2zM362 740h2v2h-2zM372 740h40v2h-40zM432 740h2v2h-2zM368 742h44v2h-44zM424 742h4v2h-4zM366 744h44v2h-44zM412 744h4v2h-4zM418 744h2v2h-2zM450 744h2v2h-2zM366 746h44v2h-44zM368 748h2v2h-2zM372 748h38v2h-38zM414 748h4v2h-4zM370 750h40v2h-40zM360 752h2v2h-2zM364 752h2v2h-2zM370 752h40v2h-40zM360 754h2v2h-2zM366 754h40v2h-40zM368 756h38v2h-38zM408 756h4v2h-4zM366 758h2v2h-2zM370 758h36v2h-36zM358 760h2v2h-2zM368 760h38v2h-38zM412 760h4v2h-4zM368 762h40v2h-40zM352 764h2v2h-2zM368 764h2v2h-2zM372 764h26v2h-26zM400 764h2v2h-2zM406 764h2v2h-2zM416 764h2v2h-2zM368 766h2v2h-2zM372 766h2v2h-2zM376 766h28v2h-28zM416 766h2v2h-2zM368 768h2v2h-2zM372 768h24v2h-24zM398 768h6v2h-6zM424 768h2v2h-2zM372 770h26v2h-26zM400 770h2v2h-2zM364 772h4v2h-4zM370 772h2v2h-2zM374 772h28v2h-28zM406 772h2v2h-2zM368 774h2v2h-2zM372 774h30v2h-30zM408 774h4v2h-4zM348 776h2v2h-2zM362 776h2v2h-2zM372 776h2v2h-2zM376 776h24v2h-24zM404 776h2v2h-2zM408 776h2v2h-2z" fill="#717171"></path>
<line x1="415.7" y1="656" x2="415.7" y2="780.3" stroke="#000" stroke-width="1.6"></line>
<line x1="338.1" y1="730.9" x2="500" y2="730.9" stroke="#000" stroke-width="1.6"></line>
<rect x="338.1" y="656" width="161.90" height="124.30" fill="none" stroke="#000" stroke-width="1.5"></rect>
<path d="M339.60 780.3v7.3M338.1 779.00h-7M351.58 780.3v4M338.1 769.86h-4M358.59 780.3v4M338.1 764.52h-4M363.56 780.3v4M338.1 760.73h-4M367.42 780.3v4M338.1 757.79h-4M370.57 780.3v4M338.1 755.38h-4M373.23 780.3v4M338.1 753.35h-4M375.54 780.3v4M338.1 751.59h-4M377.58 780.3v4M338.1 750.04h-4M379.40 780.3v7.3M338.1 748.65h-7M391.38 780.3v4M338.1 739.51h-4M398.39 780.3v4M338.1 734.17h-4M403.36 780.3v4M338.1 730.38h-4M407.22 780.3v4M338.1 727.44h-4M410.37 780.3v4M338.1 725.03h-4M413.03 780.3v4M338.1 723.00h-4M415.34 780.3v4M338.1 721.24h-4M417.38 780.3v4M338.1 719.69h-4M419.20 780.3v7.3M338.1 718.30h-7M431.18 780.3v4M338.1 709.16h-4M438.19 780.3v4M338.1 703.82h-4M443.16 780.3v4M338.1 700.03h-4M447.02 780.3v4M338.1 697.09h-4M450.17 780.3v4M338.1 694.68h-4M452.83 780.3v4M338.1 692.65h-4M455.14 780.3v4M338.1 690.89h-4M457.18 780.3v4M338.1 689.34h-4M459.00 780.3v7.3M338.1 687.95h-7M470.98 780.3v4M338.1 678.81h-4M477.99 780.3v4M338.1 673.47h-4M482.96 780.3v4M338.1 669.68h-4M486.82 780.3v4M338.1 666.74h-4M489.97 780.3v4M338.1 664.33h-4M492.63 780.3v4M338.1 662.30h-4M494.94 780.3v4M338.1 660.54h-4M496.98 780.3v4M338.1 658.99h-4M498.80 780.3v7.3M338.1 657.60h-7" stroke="#000" stroke-width="1.5" fill="none"></path>
<g transform="translate(339.60,804.60) scale(0.8,1)"><text x="0" y="0" font-size="16.3" text-anchor="middle">10<tspan font-size="15.8" dx="1.3" dy="-8.3">0</tspan></text><rect x="-13.80" y="-2.48" width="3.53" height="3.38" fill="#fff"></rect><rect x="-8.60" y="-2.48" width="3.41" height="3.38" fill="#fff"></rect></g>
<g transform="translate(325.90,779.00) rotate(-90) scale(0.78,1)"><text x="0" y="0" font-size="17" text-anchor="middle">10<tspan font-size="14" dx="2.5" dy="-8.4">0</tspan></text><rect x="-14.20" y="-2.57" width="3.73" height="3.47" fill="#fff"></rect><rect x="-8.68" y="-2.57" width="3.59" height="3.47" fill="#fff"></rect></g>
<g transform="translate(379.40,804.60) scale(0.8,1)"><text x="0" y="0" font-size="16.3" text-anchor="middle">10<tspan font-size="15.8" dx="1.3" dy="-8.3">1</tspan></text><rect x="5.63" y="-10.78" width="3.53" height="3.38" fill="#fff"></rect><rect x="10.84" y="-10.78" width="3.41" height="3.38" fill="#fff"></rect><rect x="-13.80" y="-2.48" width="3.53" height="3.38" fill="#fff"></rect><rect x="-8.60" y="-2.48" width="3.41" height="3.38" fill="#fff"></rect></g>
<g transform="translate(325.90,748.65) rotate(-90) scale(0.78,1)"><text x="0" y="0" font-size="17" text-anchor="middle">10<tspan font-size="14" dx="2.5" dy="-8.4">1</tspan></text><rect x="6.97" y="-10.74" width="3.23" height="3.24" fill="#fff"></rect><rect x="11.68" y="-10.74" width="3.12" height="3.24" fill="#fff"></rect><rect x="-14.20" y="-2.57" width="3.73" height="3.47" fill="#fff"></rect><rect x="-8.68" y="-2.57" width="3.59" height="3.47" fill="#fff"></rect></g>
<g transform="translate(419.20,804.60) scale(0.8,1)"><text x="0" y="0" font-size="16.3" text-anchor="middle">10<tspan font-size="15.8" dx="1.3" dy="-8.3">2</tspan></text><rect x="-13.80" y="-2.48" width="3.53" height="3.38" fill="#fff"></rect><rect x="-8.60" y="-2.48" width="3.41" height="3.38" fill="#fff"></rect></g>
<g transform="translate(325.90,718.30) rotate(-90) scale(0.78,1)"><text x="0" y="0" font-size="17" text-anchor="middle">10<tspan font-size="14" dx="2.5" dy="-8.4">2</tspan></text><rect x="-14.20" y="-2.57" width="3.73" height="3.47" fill="#fff"></rect><rect x="-8.68" y="-2.57" width="3.59" height="3.47" fill="#fff"></rect></g>
<g transform="translate(459.00,804.60) scale(0.8,1)"><text x="0" y="0" font-size="16.3" text-anchor="middle">10<tspan font-size="15.8" dx="1.3" dy="-8.3">3</tspan></text><rect x="-13.80" y="-2.48" width="3.53" height="3.38" fill="#fff"></rect><rect x="-8.60" y="-2.48" width="3.41" height="3.38" fill="#fff"></rect></g>
<g transform="translate(325.90,687.95) rotate(-90) scale(0.78,1)"><text x="0" y="0" font-size="17" text-anchor="middle">10<tspan font-size="14" dx="2.5" dy="-8.4">3</tspan></text><rect x="-14.20" y="-2.57" width="3.73" height="3.47" fill="#fff"></rect><rect x="-8.68" y="-2.57" width="3.59" height="3.47" fill="#fff"></rect></g>
<g transform="translate(498.80,804.60) scale(0.8,1)"><text x="0" y="0" font-size="16.3" text-anchor="middle">10<tspan font-size="15.8" dx="1.3" dy="-8.3">4</tspan></text><rect x="-13.80" y="-2.48" width="3.53" height="3.38" fill="#fff"></rect><rect x="-8.60" y="-2.48" width="3.41" height="3.38" fill="#fff"></rect></g>
<g transform="translate(325.90,657.60) rotate(-90) scale(0.78,1)"><text x="0" y="0" font-size="17" text-anchor="middle">10<tspan font-size="14" dx="2.5" dy="-8.4">4</tspan></text><rect x="-14.20" y="-2.57" width="3.73" height="3.47" fill="#fff"></rect><rect x="-8.68" y="-2.57" width="3.59" height="3.47" fill="#fff"></rect></g>
<g transform="matrix(1.0304,0,0,1.0417,-13.09,-26.96)"><text x="416.6" y="647" font-size="35" font-weight="bold" text-anchor="middle">HD</text></g>
<g transform="matrix(1.0000,0,0,1.0000,344.60,678.00)"><text x="0" y="0" font-size="21.6" font-weight="bold">44.1</text><rect x="30.53" y="-3.58" width="4.52" height="4.48" fill="#fff"></rect><rect x="38.51" y="-3.58" width="4.23" height="4.48" fill="#fff"></rect></g>
<g transform="matrix(1.0000,0,0,1.0000,466.40,678.00)"><text x="0" y="0" font-size="21.6" font-weight="bold">3.7</text></g>
<g transform="matrix(1.0000,0,0,1.0000,466.00,778.20)"><text x="0" y="0" font-size="21.6" font-weight="bold">0.3</text></g>
</svg>
</body></html>
